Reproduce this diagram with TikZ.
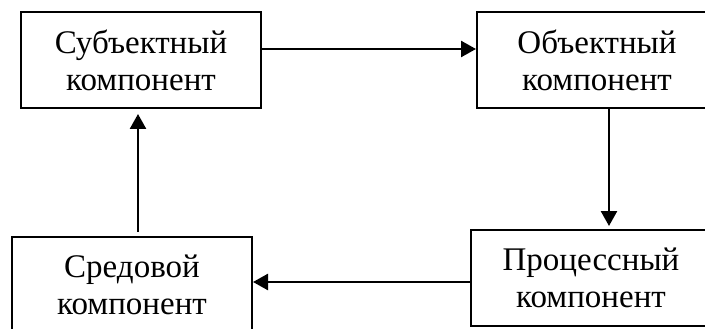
\documentclass[tikz,border=0pt]{standalone}
\usepackage{fontspec}
\setmainfont{Liberation Serif}
\usetikzlibrary{arrows.meta}
\tikzset{
  box/.style={draw, line width=2pt, minimum width=240pt, minimum height=96pt, inner sep=0pt, align=center, font=\fontsize{33}{37}\selectfont},
  arr/.style={line width=2.5pt, -{Triangle[length=15pt,width=16pt]}}
}
\begin{document}
\begin{tikzpicture}[x=1pt,y=-1pt]
\clip (0,0) rectangle (705,329);
\useasboundingbox (0,0) rectangle (705,329);
\node[box] (b1) at (141,60) {Субъектный\\компонент};
\node[box] (b2) at (597,60) {Объектный\\компонент};
\node[box] (b4) at (591,278) {Процессный\\компонент};
\node[box] (b3) at (132,285) {Средовой\\компонент};
\draw[arr] ([yshift=11pt]b1.east) -- ([yshift=11pt]b2.west);
\draw[arr, shorten >=3pt] ([xshift=12pt]b2.south) -- ([xshift=18pt]b4.north);
\draw[arr] ([yshift=-4pt]b4.west) -- ([yshift=3pt]b3.east);
\draw[arr, shorten <=4pt, shorten >=5pt] ([xshift=6pt]b3.north) -- ([xshift=-3pt]b1.south);
\end{tikzpicture}
\end{document}
